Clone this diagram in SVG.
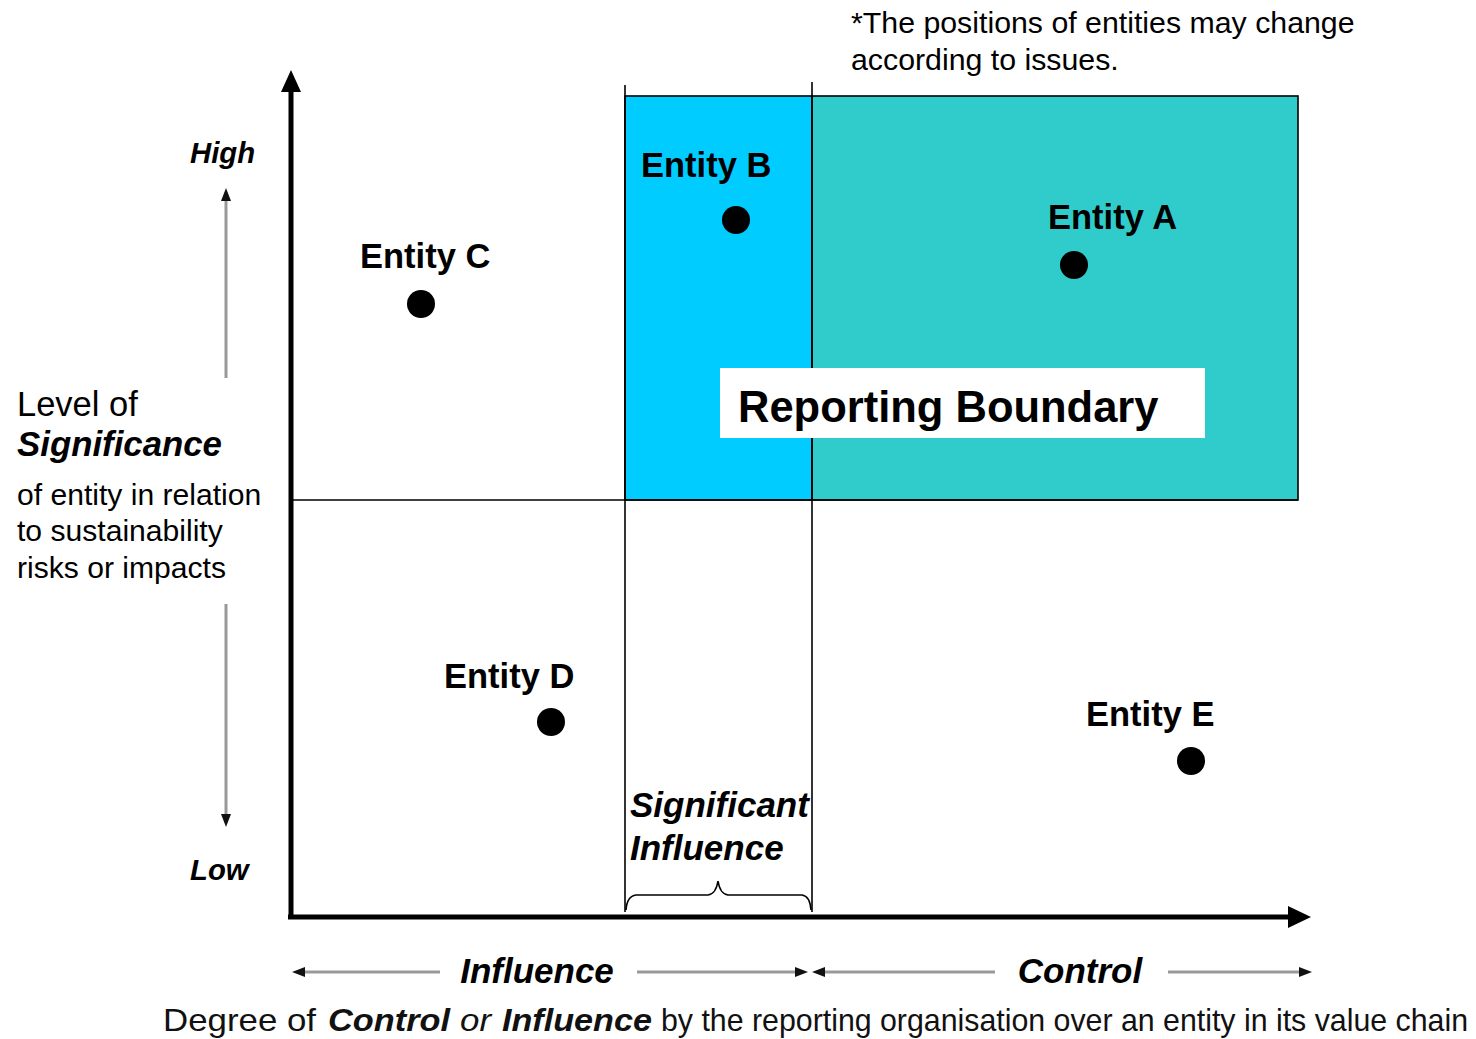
<svg xmlns="http://www.w3.org/2000/svg" width="1476" height="1039" viewBox="0 0 1476 1039">
<defs>
<style>
text{font-family:"Liberation Sans",Arial,sans-serif;fill:#000}
.ent{font-size:34.5px;font-weight:bold}
.bi{font-weight:bold;font-style:italic}
.thin{stroke:#000;stroke-width:1.6;fill:none}
.gray{stroke:#999;stroke-width:3;fill:none}
.dot{fill:#000}
.foot{font-size:30.5px;fill:#111}
</style>
</defs>
<rect width="1476" height="1039" fill="#fff"/>
<g id="regions">
<rect x="625" y="96" width="187" height="404" fill="#00CCFF" stroke="#000" stroke-width="1.6"/>
<rect x="812" y="96" width="486" height="404" fill="#30CCCC" stroke="#000" stroke-width="1.6"/>
</g>
<g id="connectors">
<line class="thin" x1="291" y1="500" x2="1298" y2="500"/>
<line class="thin" x1="625" y1="85" x2="625" y2="912"/>
<line class="thin" x1="812" y1="82" x2="812" y2="912"/>
<line x1="291" y1="917" x2="291" y2="88" stroke="#000" stroke-width="5"/>
<path d="M291,70 L281,92 L301,92 z" fill="#000"/>
<line x1="288" y1="917" x2="1292" y2="917" stroke="#000" stroke-width="5"/>
<path d="M1311,917 L1288,906 L1288,928 z" fill="#000"/>
<line class="gray" x1="226" y1="378" x2="226" y2="200"/>
<path d="M226,188 L221,201 L231,201 z" fill="#111"/>
<line class="gray" x1="226" y1="604" x2="226" y2="814"/>
<path d="M226,827 L221,814 L231,814 z" fill="#111"/>
<line class="gray" x1="440" y1="972" x2="304" y2="972"/>
<path d="M292,972 L305,967 L305,977 z" fill="#111"/>
<line class="gray" x1="637" y1="972" x2="796" y2="972"/>
<path d="M808,972 L795,967 L795,977 z" fill="#111"/>
<line class="gray" x1="995" y1="972" x2="824" y2="972"/>
<path d="M812,972 L825,967 L825,977 z" fill="#111"/>
<line class="gray" x1="1168" y1="972" x2="1300" y2="972"/>
<path d="M1312,972 L1299,967 L1299,977 z" fill="#111"/>
<path class="thin" d="M626,910 Q627,896 636,895 L708,895 Q716,894 718,881 Q720,894 728,895 L802,895 Q810,896 811,910"/>
</g>
<g id="boundary">
<rect x="720" y="368" width="485" height="70" fill="#fff"/>
<text x="738" y="422" font-size="43.5" font-weight="bold">Reporting Boundary</text>
</g>
<g id="entityA"><text class="ent" x="1048" y="229">Entity A</text><circle class="dot" cx="1074" cy="265" r="14"/></g>
<g id="entityB"><text class="ent" x="641" y="177">Entity B</text><circle class="dot" cx="736" cy="220" r="14"/></g>
<g id="entityC"><text class="ent" x="360" y="268">Entity C</text><circle class="dot" cx="421" cy="304" r="14"/></g>
<g id="entityD"><text class="ent" x="444" y="688">Entity D</text><circle class="dot" cx="551" cy="722" r="14"/></g>
<g id="entityE"><text class="ent" x="1086" y="726">Entity E</text><circle class="dot" cx="1191" cy="761" r="14"/></g>
<g id="labels">
<text x="851" y="33" font-size="30.3" fill="#111">*The positions of entities may change</text>
<text x="851" y="70" font-size="30.3" fill="#111">according to issues.</text>
<text class="bi" x="190" y="163" font-size="29.3">High</text>
<text class="bi" x="190" y="880" font-size="29.3">Low</text>
<text x="17" y="416" font-size="34.5" fill="#222">Level of</text>
<text class="bi" x="17" y="456" font-size="34.8">Significance</text>
<text x="17" y="505" font-size="30.1" fill="#222">of entity in relation</text>
<text x="17" y="541" font-size="30.1" fill="#222">to sustainability</text>
<text x="17" y="578" font-size="30.1" fill="#222">risks or impacts</text>
<text class="bi" x="630" y="817" font-size="35">Significant</text>
<text class="bi" x="630" y="860" font-size="35">Influence</text>
<text class="bi" x="537" y="983" font-size="35" text-anchor="middle">Influence</text>
<text class="bi" x="1080" y="983" font-size="35" text-anchor="middle">Control</text>
</g>
<g id="footer">
<text class="foot" x="163" y="1031" textLength="153" lengthAdjust="spacingAndGlyphs">Degree of</text>
<text class="foot bi" x="328" y="1031" textLength="122" lengthAdjust="spacingAndGlyphs">Control</text>
<text class="foot" x="460" y="1031" font-style="italic" textLength="31" lengthAdjust="spacingAndGlyphs">or</text>
<text class="foot bi" x="502" y="1031" textLength="150" lengthAdjust="spacingAndGlyphs">Influence</text>
<text class="foot" x="661" y="1031" textLength="807" lengthAdjust="spacingAndGlyphs">by the reporting organisation over an entity in its value chain</text>
</g>
</svg>
